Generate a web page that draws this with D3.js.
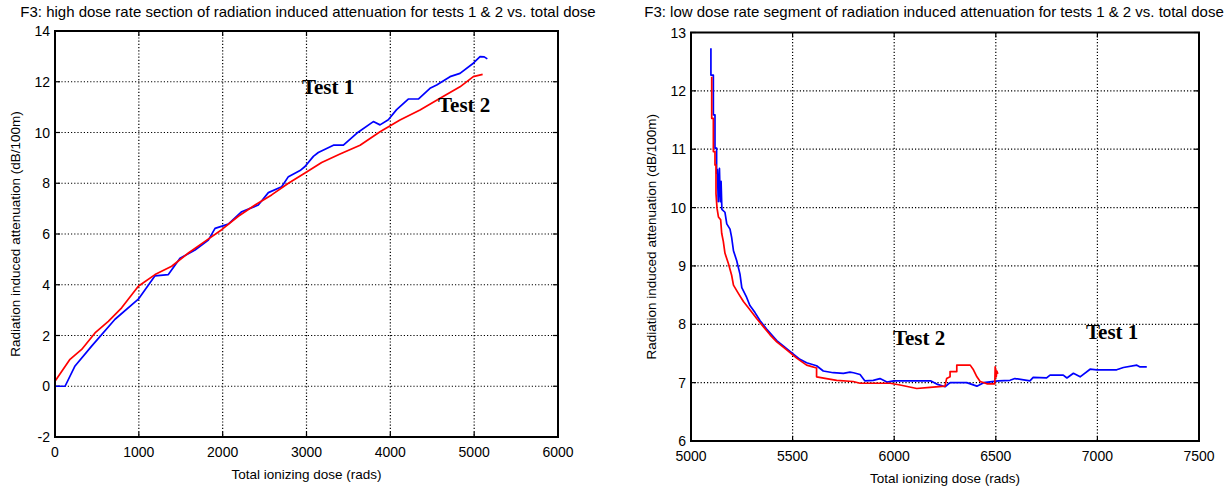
<!DOCTYPE html>
<html>
<head>
<meta charset="utf-8">
<script src="https://cdn.jsdelivr.net/npm/d3@7"></script>
<style>
  html, body { margin: 0; padding: 0; background: #fff; }
  svg { display: block; }
  text { font-family: "Liberation Sans", Arial, sans-serif; fill: #000; }
  .tag { font-family: "Liberation Serif", "Times New Roman", serif; font-weight: bold; }
</style>
</head>
<body>
<svg id="fig" width="1228" height="489"></svg>
<script>
// ---- High dose rate section (left panel) ----
const hiTitle = "F3: high dose rate section of radiation induced attenuation for tests 1 & 2 vs. total dose";
const hiXTicks = [0, 1000, 2000, 3000, 4000, 5000, 6000];
const hiYTicks = [-2, 0, 2, 4, 6, 8, 10, 12, 14];

const hiTest1Dose = [0, 120, 239, 437, 716, 994, 1193, 1352, 1491, 1670, 1829, 1909, 2067, 2227, 2425, 2545, 2704, 2784, 2923, 2982, 3082, 3141, 3321, 3440, 3599, 3797, 3877, 3976, 4075, 4214, 4334, 4473, 4553, 4712, 4831, 4990, 5070, 5120, 5157];
const hiTest1Atten = [0, 0, 0.8, 1.58, 2.64, 3.43, 4.35, 4.4, 5.04, 5.37, 5.76, 6.22, 6.39, 6.88, 7.14, 7.63, 7.86, 8.26, 8.5, 8.66, 9.06, 9.21, 9.5, 9.5, 9.97, 10.43, 10.3, 10.5, 10.9, 11.32, 11.32, 11.74, 11.87, 12.2, 12.33, 12.73, 12.99, 12.98, 12.9];

const hiTest2Dose = [0, 179, 318, 477, 636, 795, 994, 1193, 1392, 1591, 1789, 1988, 2187, 2386, 2584, 2784, 2982, 3181, 3400, 3639, 3877, 4115, 4354, 4593, 4831, 4990, 5101];
const hiTest2Atten = [0.2, 1.06, 1.45, 2.1, 2.56, 3.09, 3.94, 4.4, 4.73, 5.25, 5.71, 6.17, 6.7, 7.14, 7.54, 8.0, 8.4, 8.82, 9.15, 9.5, 10.03, 10.49, 10.89, 11.35, 11.8, 12.2, 12.29];

const hiTags = ["Test 1", "Test 2"];
const hiTagDose = [2946, 4569];
const hiTagAtten = [11.5, 10.79];

// ---- Low dose rate segment (right panel) ----
const loTitle = "F3: low dose rate segment of radiation induced attenuation for tests 1 & 2 vs. total dose";
const loXTicks = [5000, 5500, 6000, 6500, 7000, 7500];
const loYTicks = [6, 7, 8, 9, 10, 11, 12, 13];

const loTest1Dose = [5098, 5098, 5110, 5110, 5118, 5118, 5126, 5126, 5130, 5134, 5140, 5144, 5148, 5152, 5167, 5176, 5192, 5200, 5209, 5225, 5241, 5250, 5274, 5290, 5315, 5340, 5372, 5422, 5454, 5504, 5536, 5569, 5618, 5651, 5700, 5750, 5782, 5800, 5832, 5856, 5897, 5930, 5964, 5997, 6062, 6181, 6214, 6250, 6275, 6357, 6407, 6440, 6513, 6570, 6594, 6668, 6684, 6750, 6767, 6832, 6850, 6882, 6915, 6964, 6997, 7095, 7128, 7194, 7210, 7243];
const loTest1Atten = [12.73, 12.27, 12.27, 11.59, 11.59, 11.02, 11.02, 10.59, 10.65, 10.1, 10.67, 10.1, 10.45, 9.97, 9.92, 9.72, 9.63, 9.49, 9.26, 9.09, 8.86, 8.63, 8.46, 8.32, 8.2, 8.06, 7.92, 7.72, 7.63, 7.49, 7.4, 7.34, 7.29, 7.2, 7.17, 7.16, 7.18, 7.17, 7.14, 7.03, 7.04, 7.07, 7.01, 7.03, 7.03, 7.03, 6.97, 6.93, 7.0, 7.0, 6.94, 7.0, 7.03, 7.04, 7.07, 7.03, 7.09, 7.08, 7.13, 7.13, 7.08, 7.16, 7.1, 7.23, 7.22, 7.22, 7.26, 7.3, 7.27, 7.27];

const loTest2Dose = [5102, 5102, 5110, 5110, 5118, 5118, 5123, 5123, 5128, 5135, 5146, 5151, 5159, 5167, 5184, 5200, 5209, 5233, 5258, 5290, 5323, 5356, 5389, 5422, 5471, 5520, 5569, 5618, 5618, 5667, 5717, 5798, 5832, 5980, 6029, 6111, 6176, 6250, 6258, 6275, 6275, 6308, 6308, 6374, 6390, 6407, 6423, 6456, 6495, 6497, 6502, 6505, 6510];
const loTest2Atten = [12.24, 11.53, 11.53, 10.96, 10.96, 10.73, 10.73, 10.24, 9.99, 9.84, 9.79, 9.56, 9.42, 9.22, 9.04, 8.84, 8.67, 8.53, 8.39, 8.25, 8.1, 7.96, 7.82, 7.7, 7.56, 7.42, 7.3, 7.25, 7.1, 7.07, 7.04, 7.02, 6.99, 6.99, 6.96, 6.9, 6.92, 6.94, 7.07, 7.1, 7.19, 7.19, 7.3, 7.3, 7.22, 7.1, 7.02, 6.98, 6.98, 7.27, 7.1, 7.2, 7.15];

const loTags = ["Test 2", "Test 1"];
const loTagDose = [5994, 6944];
const loTagAtten = [7.645, 7.75];

const xLabel = "Total ionizing dose (rads)";
const yLabel = "Radiation induced attenuation (dB/100m)";

const svg = d3.select("#fig");

function panel(cfg) {
  const x = d3.scaleLinear().domain(cfg.xDomain).range([cfg.left, cfg.right]);
  const y = d3.scaleLinear().domain(cfg.yDomain).range([cfg.bottom, cfg.top]);
  const g = svg.append("g");
  const tick = 5;

  // dotted grid
  g.append("g").selectAll("line.vx")
    .data(cfg.xTicks.slice(1, -1)).enter().append("line")
    .attr("x1", d => x(d)).attr("x2", d => x(d))
    .attr("y1", cfg.top).attr("y2", cfg.bottom)
    .attr("stroke", "#000").attr("stroke-width", 1.2).attr("stroke-dasharray", "1.2,2");
  g.append("g").selectAll("line.hy")
    .data(cfg.yTicks.slice(1, -1)).enter().append("line")
    .attr("x1", cfg.left).attr("x2", cfg.right)
    .attr("y1", d => y(d)).attr("y2", d => y(d))
    .attr("stroke", "#000").attr("stroke-width", 1.2).attr("stroke-dasharray", "1.2,2");

  // inward ticks on all four sides
  const tk = g.append("g").attr("stroke", "#000").attr("stroke-width", 1.2);
  cfg.xTicks.forEach(d => {
    tk.append("line").attr("x1", x(d)).attr("x2", x(d)).attr("y1", cfg.bottom).attr("y2", cfg.bottom - tick);
    tk.append("line").attr("x1", x(d)).attr("x2", x(d)).attr("y1", cfg.top).attr("y2", cfg.top + tick);
  });
  cfg.yTicks.forEach(d => {
    tk.append("line").attr("x1", cfg.left).attr("x2", cfg.left + tick).attr("y1", y(d)).attr("y2", y(d));
    tk.append("line").attr("x1", cfg.right).attr("x2", cfg.right - tick).attr("y1", y(d)).attr("y2", y(d));
  });

  // series
  const line = d3.line().x(d => x(d[0])).y(d => y(d[1]));
  cfg.series.forEach(s => {
    const pts = s.dose.map((v, i) => [v, s.atten[i]]);
    g.append("path").datum(pts).attr("d", line)
      .attr("fill", "none").attr("stroke", s.color).attr("stroke-width", 1.7)
      .attr("stroke-linejoin", "round");
  });

  // frame
  g.append("rect").attr("x", cfg.left).attr("y", cfg.top)
    .attr("width", cfg.right - cfg.left).attr("height", cfg.bottom - cfg.top)
    .attr("fill", "none").attr("stroke", "#000").attr("stroke-width", 2);

  // tick labels
  g.append("g").selectAll("text").data(cfg.xTicks).enter().append("text")
    .attr("x", d => x(d)).attr("y", cfg.bottom + 20)
    .attr("text-anchor", "middle").attr("font-size", 14).text(d => d);
  g.append("g").selectAll("text").data(cfg.yTicks).enter().append("text")
    .attr("x", cfg.left - 5).attr("y", d => y(d)).attr("dy", "0.36em")
    .attr("text-anchor", "end").attr("font-size", 14).text(d => d);

  // titles
  g.append("text").attr("x", cfg.titleX).attr("y", 17)
    .attr("text-anchor", "middle").attr("font-size", 15).text(cfg.title);
  g.append("text").attr("x", (cfg.left + cfg.right) / 2).attr("y", cfg.bottom + 42)
    .attr("text-anchor", "middle").attr("font-size", 13.5).text(xLabel);
  g.append("text")
    .attr("transform", `translate(${cfg.left - 35},${(cfg.top + cfg.bottom) / 2}) rotate(-90)`)
    .attr("text-anchor", "middle").attr("font-size", 13.5).text(yLabel);

  // series tags
  g.append("g").selectAll("text").data(cfg.tags).enter().append("text")
    .attr("class", "tag").attr("font-size", 21)
    .attr("x", (d, i) => x(cfg.tagDose[i])).attr("y", (d, i) => y(cfg.tagAtten[i]))
    .text(d => d);
}

panel({
  left: 55, right: 558, top: 31, bottom: 437, titleX: 308,
  xDomain: [0, 6000], yDomain: [-2, 14],
  xTicks: hiXTicks, yTicks: hiYTicks, title: hiTitle,
  series: [
    { dose: hiTest1Dose, atten: hiTest1Atten, color: "#0000ff" },
    { dose: hiTest2Dose, atten: hiTest2Atten, color: "#ff0000" }
  ],
  tags: hiTags, tagDose: hiTagDose, tagAtten: hiTagAtten
});

panel({
  left: 691, right: 1199, top: 32.5, bottom: 441, titleX: 934,
  xDomain: [5000, 7500], yDomain: [6, 13],
  xTicks: loXTicks, yTicks: loYTicks, title: loTitle,
  series: [
    { dose: loTest1Dose, atten: loTest1Atten, color: "#0000ff" },
    { dose: loTest2Dose, atten: loTest2Atten, color: "#ff0000" }
  ],
  tags: loTags, tagDose: loTagDose, tagAtten: loTagAtten
});
</script>
</body>
</html>
